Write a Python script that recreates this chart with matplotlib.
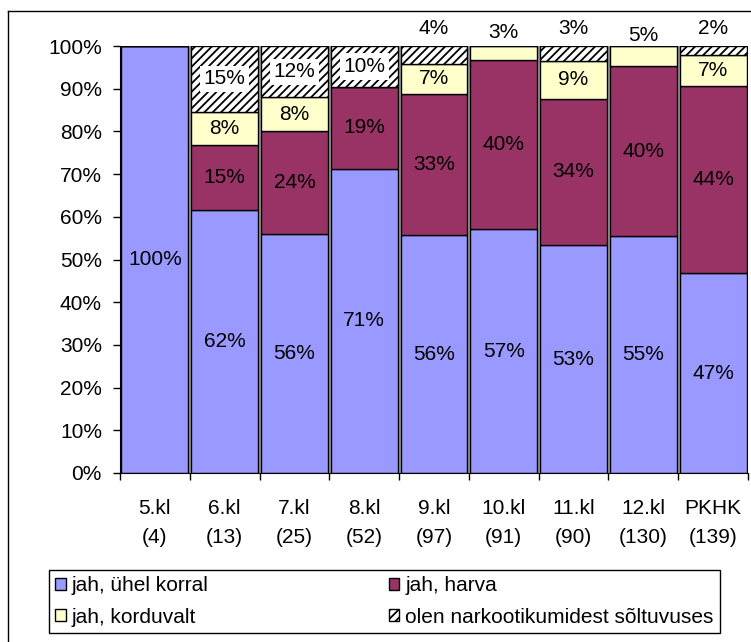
import numpy as np
import matplotlib
matplotlib.use('Agg')
import matplotlib.pyplot as plt
from matplotlib.lines import Line2D
from matplotlib.patches import Patch

plt.rcParams['font.family'] = ['Liberation Sans', 'DejaVu Sans']
plt.rcParams['font.size'] = 15
plt.rcParams['hatch.linewidth'] = 1.3

# classes and number of respondents
classes = ['5.kl', '6.kl', '7.kl', '8.kl', '9.kl', '10.kl', '11.kl', '12.kl', 'PKHK']
n_resp = [4, 13, 25, 52, 97, 91, 90, 130, 139]

# shares in %
once = [100, 61.5, 56, 71.2, 55.7, 57.1, 53.3, 55.4, 46.8]
rarely = [0, 15.4, 24, 19.2, 33.0, 39.6, 34.4, 40.0, 43.9]
repeatedly = [0, 7.7, 8, 0, 7.2, 3.3, 8.9, 4.6, 7.2]
addicted = [0, 15.4, 12, 9.6, 4.1, 0, 3.3, 0, 2.1]

names = ['jah, ühel korral', 'jah, harva', 'jah, korduvalt', 'olen narkootikumidest sõltuvuses']
colors = ['#9999FF', '#993366', '#FFFFCC', 'white']
hatches = [None, None, None, '////']

# where the small segment labels sit (above the bars)
above = {4: 104.2, 5: 103.1, 6: 104.2, 7: 102.4, 8: 104.0}

fig = plt.figure(figsize=(7.51, 6.42), dpi=100)
ax = fig.add_axes([120/751, 1-473/642, 628/751, 427/642])
ax.set_facecolor('#A0A0A0')

x = np.arange(len(classes))
series = [once, rarely, repeatedly, addicted]
bottom = np.zeros(len(classes))
for vals, c, h in zip(series, colors, hatches):
    vals = np.array(vals, dtype=float)
    ax.bar(x, vals, bottom=bottom, width=0.96, color=c, hatch=h,
           edgecolor='black', lw=1.0, zorder=2)
    for i, v in enumerate(vals):
        if v <= 0:
            continue
        lbl = '%.0f%%' % v
        if v < 6:
            ax.text(x[i], above[i], lbl, ha='center', va='center', clip_on=False)
        elif h is not None:
            ax.text(x[i], bottom[i] + v/2, lbl, ha='center', va='center',
                    bbox=dict(facecolor='white', edgecolor='none', pad=2.5))
        else:
            ax.text(x[i], bottom[i] + v/2, lbl, ha='center', va='center')
    bottom += vals

ax.set_xlim(-0.5, len(classes)-0.5)
ax.set_ylim(0, 100)
ax.set_yticks(np.arange(0, 101, 10))
ax.set_yticklabels(['%d%%' % t for t in range(0, 101, 10)])
ax.tick_params(axis='y', direction='out', length=5, width=1, pad=8)

ax.set_xticks(x)
ax.set_xticklabels(['%s\n(%d)' % (c, n) for c, n in zip(classes, n_resp)], linespacing=1.65)
ax.tick_params(axis='x', which='major', length=0, pad=19)
ax.set_xticks(np.arange(-0.5, len(classes)), minor=True)
ax.tick_params(axis='x', which='minor', direction='out', length=5, width=1)

ax.spines['top'].set_visible(False)
ax.spines['right'].set_visible(False)
ax.spines['left'].set_color('black')
ax.spines['bottom'].set_color('black')

handles = [Patch(facecolor=colors[k], edgecolor='black', hatch=hatches[k], label=names[k])
           for k in [0, 2, 1, 3]]
leg = fig.legend(handles=handles, ncol=2, loc='upper left', mode='expand',
                 bbox_to_anchor=(49/751, 10/642, 671/751, 62/642),
                 bbox_transform=fig.transFigure, borderaxespad=0, fancybox=False,
                 framealpha=1, edgecolor='black', handlelength=0.5, handleheight=0.5,
                 handletextpad=0.3, borderpad=0.3, labelspacing=0.6, fontsize=15)
leg.get_frame().set_linewidth(1.0)

# outer chart border (left and top only visible)
fig.add_artist(Line2D([8/751, 8/751], [0, 1-11/642], color='black', lw=1, transform=fig.transFigure))
fig.add_artist(Line2D([8/751, 1], [1-11/642, 1-11/642], color='black', lw=1, transform=fig.transFigure))

plt.savefig('out.png', dpi=100)
